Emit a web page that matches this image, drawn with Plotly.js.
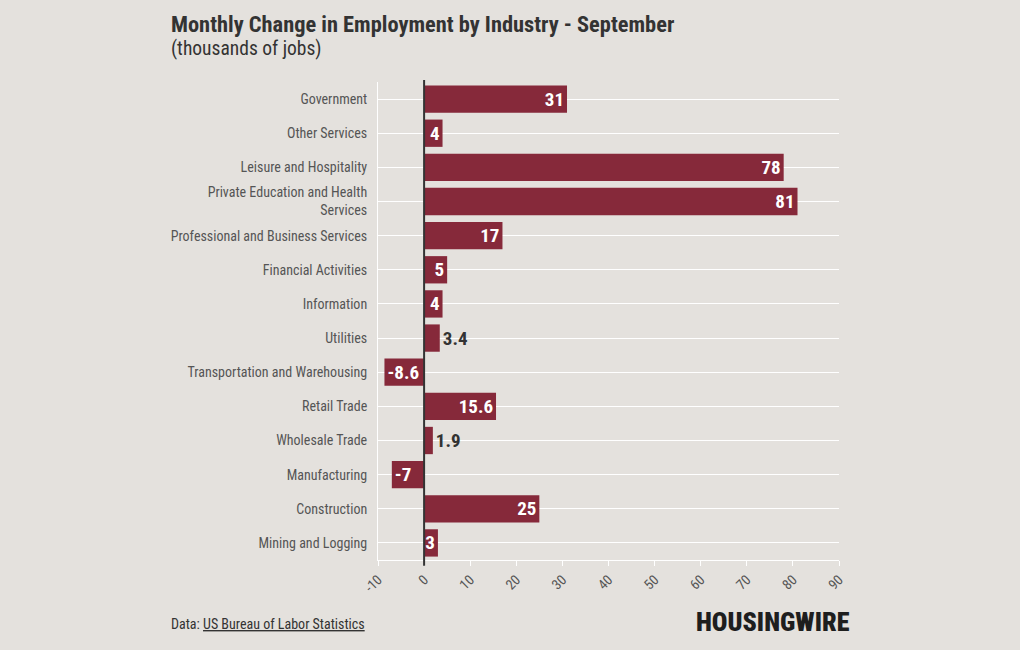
<!DOCTYPE html>
<html><head><meta charset="utf-8">
<script src="https://cdn.plot.ly/plotly-3.0.1.min.js"></script>
<style>html,body{margin:0;padding:0;background:#e4e1dd;}#chart{width:1020px;height:650px;}</style>
</head><body><div id="chart"></div>
<script>
const industries = [
  "Government","Other Services","Leisure and Hospitality","Private Education and Health<br>Services",
  "Professional and Business Services","Financial Activities","Information","Utilities",
  "Transportation and Warehousing","Retail Trade","Wholesale Trade","Manufacturing",
  "Construction","Mining and Logging"
];
const changes = [31, 4, 78, 81, 17, 5, 4, 3.4, -8.6, 15.6, 1.9, -7, 25, 3];
const xTicks = [-10,0,10,20,30,40,50,60,70,80,90];

const FONT = "'Roboto Condensed','Liberation Sans Narrow','DejaVu Sans Condensed','Roboto',sans-serif";
const BG = "#e4e1dd";

// label goes inside when the label text fits in the bar (approx. 8px per glyph, 4.6px per unit)
const textPos = changes.map(v => (Math.abs(v) * 4.6 >= String(v).length * 8 + 4) ? "inside" : "outside");

const trace = {
  type: "bar", orientation: "h",
  y: industries, x: changes,
  text: changes.map(v => String(v)),
  textposition: textPos,
  insidetextanchor: "end",
  textangle: 0,
  constraintext: "none",
  cliponaxis: false,
  insidetextfont: {family: FONT, size: 19, color: "#ffffff", weight: 700},
  outsidetextfont: {family: FONT, size: 19, color: "#333333", weight: 700},
  marker: {color: "#86293a"},
  hoverinfo: "none"
};

const layout = {
  width: 1020, height: 650,
  paper_bgcolor: BG, plot_bgcolor: BG,
  margin: {l: 378, r: 181, t: 82, b: 90},
  bargap: 0.2,
  showlegend: false,
  font: {family: FONT, color: "#555"},
  xaxis: {
    range: [-10, 90], tickvals: xTicks, ticktext: xTicks.map(String),
    tickangle: -45, tickfont: {family: FONT, size: 14, color: "#555"},
    showgrid: false, zeroline: false,
    showline: true, linecolor: "#ffffff", linewidth: 1,
    ticks: "outside", ticklen: 5, tickcolor: "#ffffff"
  },
  yaxis: {
    range: [13.5, -0.5], type: "category",
    tickfont: {family: FONT, size: 14, color: "#555"},
    showgrid: true, gridcolor: "#ffffff", gridwidth: 1,
    showline: true, linecolor: "#ffffff", linewidth: 1,
    ticks: "outside", ticklen: 7, tickcolor: "rgba(0,0,0,0)",
    zeroline: false
  },
  shapes: [{
    type: "line", xref: "x", yref: "paper", x0: 0, x1: 0, y0: -0.012, y1: 1.004,
    line: {color: "#333333", width: 2}, layer: "above"
  }],
  annotations: [
    {xref: "paper", yref: "paper", x: -0.454, y: 1.121, xanchor: "left", yanchor: "middle",
     text: "<b>Monthly Change in Employment by Industry - September</b>", showarrow: false,
     font: {family: FONT, size: 22.4, color: "#333"}},
    {xref: "paper", yref: "paper", x: -0.454, y: 1.071, xanchor: "left", yanchor: "middle",
     text: "(thousands of jobs)", showarrow: false,
     font: {family: FONT, size: 19.5, color: "#333"}},
    {xref: "paper", yref: "paper", x: -0.454, y: -0.134, xanchor: "left", yanchor: "middle",
     text: "Data: <u>US Bureau of Labor Statistics</u>", showarrow: false,
     font: {family: FONT, size: 14, color: "#333"}},
    {xref: "paper", yref: "paper", x: 1.028, y: -0.13, xanchor: "right", yanchor: "middle",
     text: "HOUSINGWIRE", showarrow: false,
     font: {family: FONT, size: 26, color: "#1e1e1e", weight: 900}}
  ]
};

Plotly.newPlot("chart", [trace], layout, {displayModeBar: false, staticPlot: true});
</script></body></html>
